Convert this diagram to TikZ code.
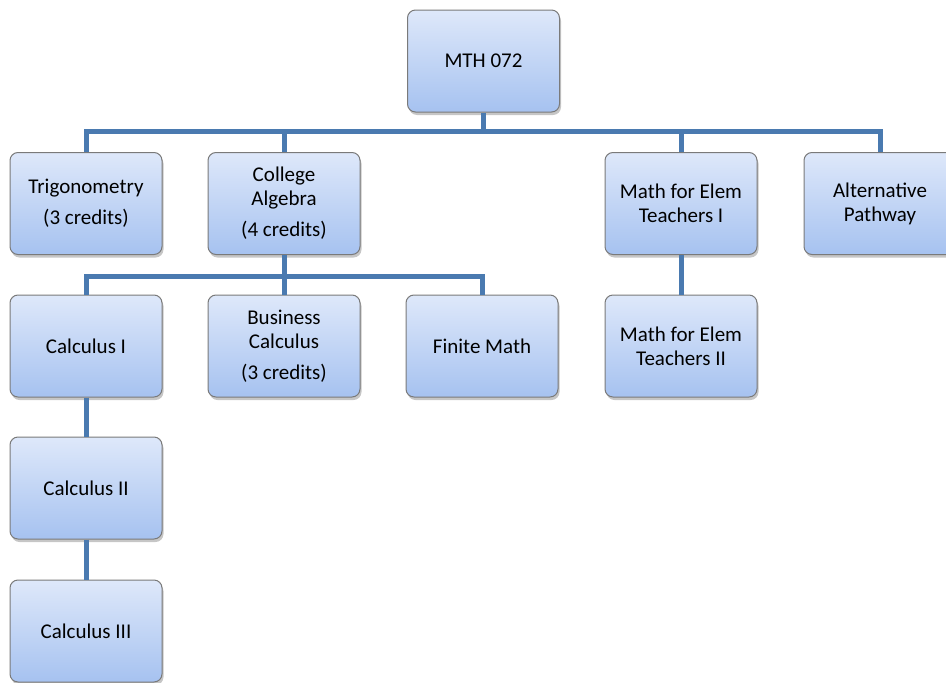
\documentclass[tikz,border=0pt]{standalone}
\usepackage{fontspec}
\setmainfont{Carlito}
\usetikzlibrary{shadows}
\definecolor{lnblue}{HTML}{4A7AB0}
\definecolor{boxtop}{HTML}{DEE8FA}
\definecolor{boxbot}{HTML}{A6C2F0}
\definecolor{boxedge}{HTML}{7A7A7A}
\tikzset{
 box/.style={draw=boxedge, line width=1pt, rounded corners=8pt, top color=boxtop, bottom color=boxbot,
   minimum width=152pt, minimum height=102pt, align=center, inner sep=2pt,
   font=\fontsize{21}{24}\selectfont,
   drop shadow={shadow xshift=1.5pt, shadow yshift=-3pt, fill=black!50, opacity=0.45}},
 conn/.style={draw=lnblue, line width=5pt}
}
\begin{document}
\begin{tikzpicture}[x=1pt,y=-1pt]
\useasboundingbox (0,0) rectangle (946,683);
\clip (0,0) rectangle (946,683);
\node[box] (mth) at (483.5,61) {MTH 072};
\node[box] (trig) at (86,203.5) {Trigonometry\\[7pt](3 credits)};
\node[box] (alg) at (284,203.5) {College\\Algebra\\[7pt](4 credits)};
\node[box] (met1) at (681,203.5) {Math for Elem\\Teachers I};
\node[box] (alt) at (880,203.5) {Alternative\\Pathway};
\node[box] (calc1) at (86,346) {Calculus I};
\node[box] (bcalc) at (284,346) {Business\\Calculus\\[7pt](3 credits)};
\node[box] (fin) at (482,346) {Finite Math};
\node[box] (met2) at (681,346) {Math for Elem\\Teachers II};
\node[box] (calc2) at (86,488) {Calculus II};
\node[box] (calc3) at (86,631) {Calculus III};
\coordinate (bus1) at (483.5,131);
\coordinate (bus2) at (284,276);
\draw[conn] (mth.south) -- (bus1);
\draw[conn] (trig.north) |- (alt.north |- bus1) -- (alt.north);
\draw[conn] (alg.north) -- (alg.north |- bus1);
\draw[conn] (met1.north) -- (met1.north |- bus1);
\draw[conn] (alg.south) -- (bcalc.north);
\draw[conn] (calc1.north) |- (fin.north |- bus2) -- (fin.north);
\draw[conn] (calc1) -- (calc2);
\draw[conn] (calc2) -- (calc3);
\draw[conn] (met1) -- (met2);
\end{tikzpicture}
\end{document}
